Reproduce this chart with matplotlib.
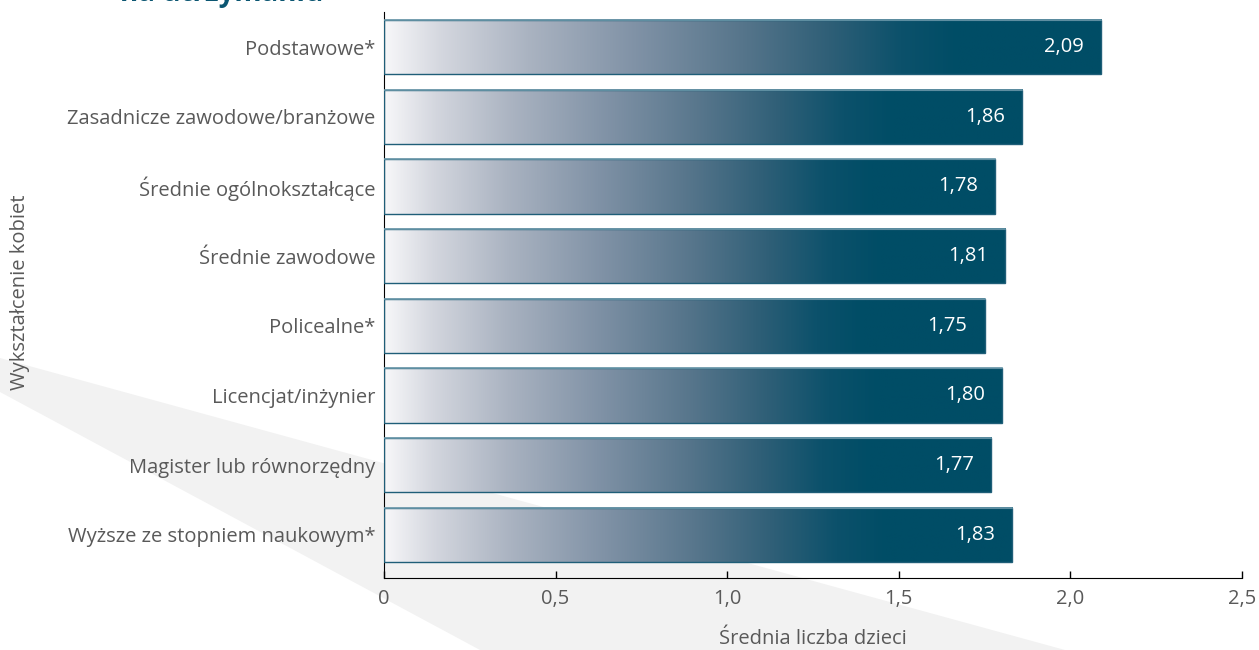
import numpy as np
import matplotlib
matplotlib.use("Agg")
import matplotlib.pyplot as plt
from matplotlib.colors import LinearSegmentedColormap
from matplotlib.patches import Polygon

plt.rcParams['font.family'] = ['Open Sans', 'DejaVu Sans']

# data
categories = ["Podstawowe*", "Zasadnicze zawodowe/branżowe", "Średnie ogólnokształcące",
              "Średnie zawodowe", "Policealne*", "Licencjat/inżynier",
              "Magister lub równorzędny", "Wyższe ze stopniem naukowym*"]
values = [2.09, 1.86, 1.78, 1.81, 1.75, 1.80, 1.77, 1.83]
xticks = [0, 0.5, 1.0, 1.5, 2.0, 2.5]
xtick_labels = ["0", "0,5", "1,0", "1,5", "2,0", "2,5"]

text_gray = '#595959'
dark = '#004d66'
fs = 14.5

fig = plt.figure(figsize=(12.59, 6.5), dpi=100)

# light gray decorative wedge in the background
W, H = 1259, 650
wedge = Polygon([(0 / W, 1 - 358 / H), (0 / W, 1 - 392 / H), (480 / W, 0), (1065 / W, 0)],
                closed=True, transform=fig.transFigure, facecolor='#f2f2f2',
                edgecolor='none', zorder=-5)
fig.patches.append(wedge)

ax = fig.add_axes([384 / W, 1 - 578 / H, (1242 - 384) / W, (578 - 12) / H])
ax.set_zorder(2)
ax.patch.set_alpha(0)

cmap = LinearSegmentedColormap.from_list('bar_grad', [
    (0.0, '#f7f7f9'), (0.08, '#d3d6de'), (0.2, '#aab3c1'), (0.35, '#8092a6'),
    (0.5, '#56758b'), (0.62, '#2f5f77'), (0.72, '#0c516b'), (0.8, dark), (1.0, dark)])
grad = np.linspace(0, 1, 256).reshape(1, -1)

y = np.arange(len(categories))
bars = ax.barh(y, values, height=0.78, facecolor='none', edgecolor='#1f5e78',
               linewidth=1.0, zorder=3)
for b, v in zip(bars, values):
    x0, y0 = b.get_x(), b.get_y()
    w, h = b.get_width(), b.get_height()
    ax.imshow(grad, cmap=cmap, aspect='auto', extent=[x0, x0 + w, y0 + h, y0],
              interpolation='bilinear', zorder=2)
    # lighter line along the top of each bar
    ax.plot([x0, x0 + w], [y0, y0], color='#6b98aa', lw=1.2, zorder=3.5)
    ax.text(v - 0.05, y0 + h / 2, f"{v:.2f}".replace('.', ','),
            color='white', ha='right', va='center', fontsize=fs, zorder=4)

ax.set_xlim(0, 2.5)
ax.set_ylim(7.62, -0.503)
ax.set_yticks(y)
ax.set_yticklabels(categories, fontsize=fs, color=text_gray)
ax.set_xticks(xticks)
ax.set_xticklabels(xtick_labels, fontsize=fs, color=text_gray)
ax.tick_params(axis='y', length=0, pad=6)
ax.tick_params(axis='x', direction='in', length=5, width=1, color='black', pad=8)

for s in ['top', 'right']:
    ax.spines[s].set_visible(False)
ax.spines['left'].set_color('black')
ax.spines['bottom'].set_color('black')

ax.set_xlabel("Średnia liczba dzieci", fontsize=fs, color=text_gray, labelpad=14)
fig.text(20 / W, 1 - 292 / H, "Wykształcenie kobiet", rotation=90, fontsize=fs,
         color=text_gray, ha='center', va='center')

# title, mostly cut off by the top edge
fig.text(120 / W, 1 - 1 / H, "na utrzymaniu", fontsize=20, fontweight='bold',
         color='#0b5672', ha='left', va='baseline')

fig.savefig("out.png", dpi=100)
